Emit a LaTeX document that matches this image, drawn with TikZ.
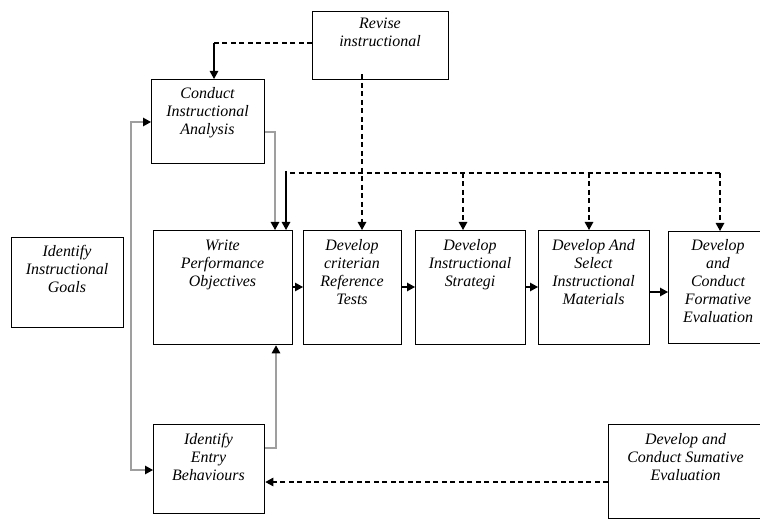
\documentclass[tikz,border=0pt]{standalone}
\usepackage{fontspec}
\setmainfont{Liberation Serif}
\usetikzlibrary{arrows.meta}
\begin{document}
\begin{tikzpicture}[x=1bp,y=-1bp,
  box/.style={draw=black, line width=1.3bp, inner sep=0pt, anchor=north west},
  txt/.style={font=\itshape\fontsize{16}{18}\selectfont, align=center, inner sep=0pt, anchor=north, execute at begin node=\strut},
  tip/.style={-{Triangle[length=8bp,width=8.5bp]}},
  conn/.style={line width=1.2bp, black},
  arr/.style={conn, tip},
  dsh/.style={conn, dash pattern=on 5bp off 3.5bp},
  gconn/.style={line width=1.3bp, draw=gray!75},
  garr/.style={gconn, -{Triangle[length=8bp,width=8.5bp,color=black]}},
  gdarr/.style={gconn, {Triangle[length=8bp,width=8.5bp,color=black]}-{Triangle[length=8bp,width=8.5bp,color=black]}}
]
\fill[white] (0,0) rectangle (760,519);
\clip (0,0) rectangle (760,519);
\useasboundingbox (0,0) rectangle (760,519);

% boxes
\node[box, minimum width=136bp, minimum height=68bp] (rev) at (312,11) {};
\node[txt] (revt) at (380,17.4) {Revise\\instructional};

\node[box, minimum width=113bp, minimum height=84bp] (con) at (151,79) {};
\node[txt] (cont) at (207.5,87.4) {Conduct\\Instructional\\Analysis};

\node[box, minimum width=112bp, minimum height=90bp] (goals) at (11,237) {};
\node[txt] (goalst) at (67,245.4) {Identify\\Instructional\\Goals};

\node[box, minimum width=139bp, minimum height=114bp] (write) at (153,230) {};
\node[txt] (writet) at (222.5,239.4) {Write\\Performance\\Objectives};

\node[box, minimum width=98bp, minimum height=114bp] (crit) at (303,230) {};
\node[txt] (critt) at (352,239.4) {Develop\\criterian\\Reference\\Tests};

\node[box, minimum width=110bp, minimum height=114bp] (strat) at (415,230) {};
\node[txt] (stratt) at (470,239.4) {Develop\\Instructional\\Strategi};

\node[box, minimum width=111bp, minimum height=114bp] (sel) at (538,230) {};
\node[txt] (selt) at (593.5,239.4) {Develop And\\Select\\Instructional\\Materials};

\node[box, minimum width=100bp, minimum height=112bp] (form) at (668,231) {};
\node[txt] (formt) at (718,239.4) {Develop\\and\\Conduct\\Formative\\Evaluation};

\node[box, minimum width=111bp, minimum height=89bp] (entry) at (153,424) {};
\node[txt] (entryt) at (208.5,433.4) {Identify\\Entry\\Behaviours};

\node[box, minimum width=155bp, minimum height=94bp] (sum) at (608,424) {};
\node[txt] (sumt) at (685.5,433.4) {Develop and\\Conduct Sumative\\Evaluation};

% Revise -> Conduct
\coordinate (rc) at (214,43);
\draw[dsh] (rev.west |- rc) -- (rc);
\draw[arr] (rc) -- (rc |- con.north);

% Revise -> criterian
\coordinate (d1) at (362,173);
\draw[dsh, tip] ([yshift=6bp]d1 |- rev.south) -- (d1 |- crit.north);

% dashed horizontal feedback
\coordinate (h0) at (290,173);
\coordinate (d2) at (463,173);
\coordinate (d3) at (589,173);
\coordinate (d4) at (720,173);
\draw[dsh] (h0) -- (d4);
\draw[dsh, tip] (d2) -- (d2 |- strat.north);
\draw[dsh, tip] (d3) -- (d3 |- sel.north);
\draw[dsh, tip] (d4) -- (d4 |- form.north);

% solid line into Write
\coordinate (s0) at (286,171);
\draw[arr] (s0) -- (s0 |- write.north);

% Conduct -> Write
\coordinate (c1) at (275,132);
\draw[garr] (con.east |- c1) -- (c1) -- (c1 |- write.north);

% left vertical to Conduct and Entry
\coordinate (l1) at (131,122);
\coordinate (l2) at (131,470);
\draw[gdarr] (con.west |- l1) -- (l1) -- (l2) -- (entry.west |- l2);

% Entry -> Write
\coordinate (e1) at (276,448);
\draw[garr] (entry.east |- e1) -- (e1) -- (e1 |- write.south);

% Sumative -> Entry
\coordinate (sm) at (608,482);
\draw[dsh, tip] (sum.west |- sm) -- (entry.east |- sm);

% row arrows
\coordinate (r1) at (0,287);
\coordinate (r2) at (0,292);
\draw[arr] (write.east |- r1) -- (crit.west |- r1);
\draw[arr] (crit.east |- r1) -- (strat.west |- r1);
\draw[arr] (strat.east |- r1) -- (sel.west |- r1);
\draw[arr] (sel.east |- r2) -- (form.west |- r2);
\end{tikzpicture}
\end{document}
